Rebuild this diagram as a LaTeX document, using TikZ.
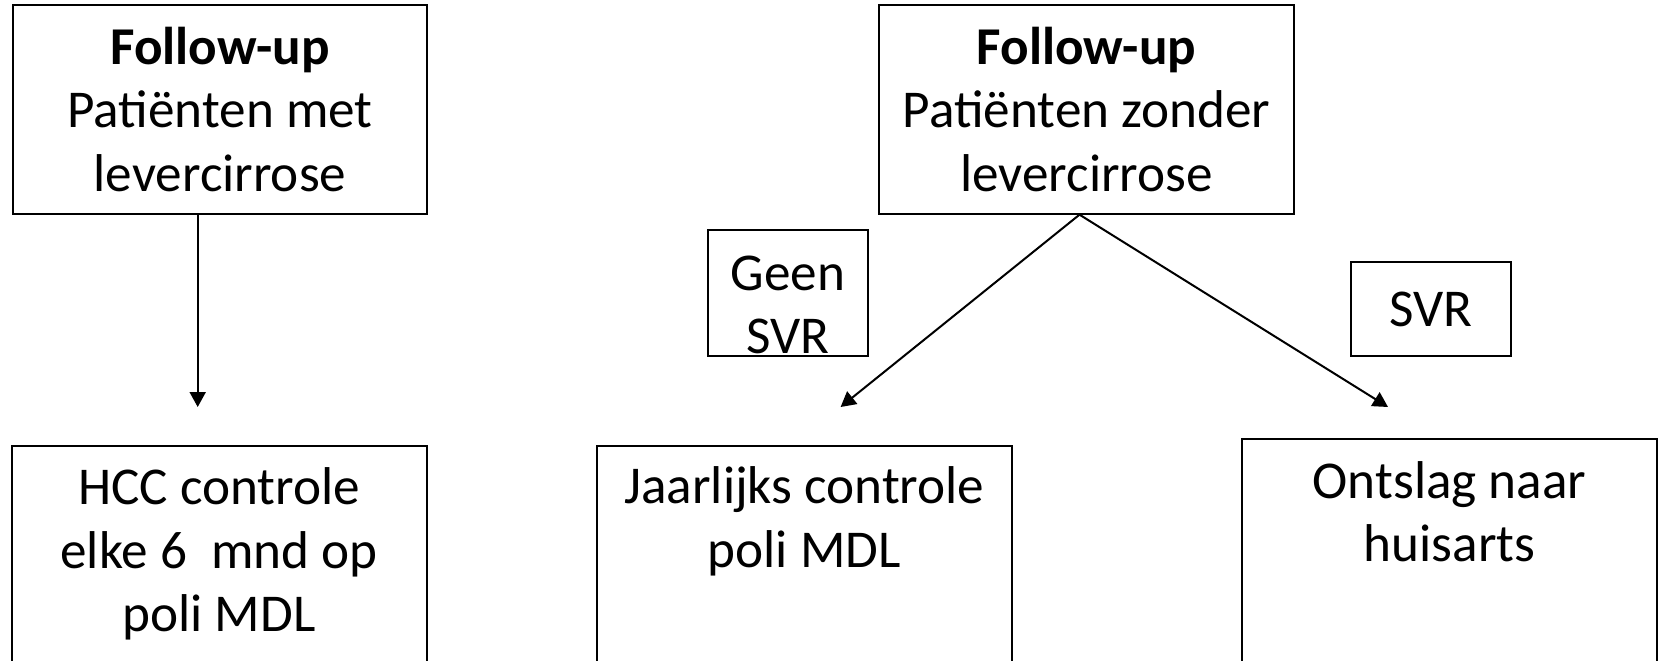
\documentclass[tikz,border=0pt]{standalone}
\usepackage{fontspec}
\setmainfont{Carlito}
\usetikzlibrary{arrows.meta}
\begin{document}
\begin{tikzpicture}[x=0.5pt,y=-0.5pt,
  box/.style={draw,line width=1pt,inner sep=0pt,align=center,
    font=\fontsize{26.6}{31.7}\selectfont},
  txt/.style={inner sep=0pt,align=center,font=\fontsize{26.6}{31.7}\selectfont},
  arr/.style={line width=1pt,-{Triangle[width=8pt,length=7.5pt]}}]
\useasboundingbox (0,0) rectangle (1658,660);
\begin{scope}
\clip (0,0) rectangle (1658,660);
\node[box,minimum width=207.15pt,minimum height=104.15pt] (A) at (220,109.5)
  {\textbf{Follow-up}\\Patiënten met\\levercirrose};
\node[box,minimum width=207.5pt,minimum height=104.15pt] (B) at (1086.5,109.5)
  {\textbf{Follow-up}\\Patiënten zonder\\levercirrose};
\node[box,minimum width=207.5pt,minimum height=108pt] (C) at (219,554)
  {HCC controle\\elke 6~~mnd op\\poli MDL};
\node[box,minimum width=207.7pt,minimum height=108pt] (D) at (804.3,554) {};
\node[txt] (Dt) at ([yshift=-38.2pt]D.north) {Jaarlijks controle\\poli MDL};
\node[box,minimum width=207.5pt,minimum height=111.5pt] (E) at (1449.5,550.5) {};
\node[txt] (Et) at ([yshift=-37pt]E.north) {Ontslag naar\\huisarts};
\node[box,minimum width=80pt,minimum height=63pt] (G) at (788,293) {};
\node[txt] (Gt) at ([yshift=-38pt]G.north) {Geen\\SVR};
\node[box,minimum width=80pt,minimum height=47pt] (S) at (1431,309) {SVR};
\coordinate (t1) at (197.7,407);
\coordinate (t2) at (840.6,407);
\coordinate (t3) at (1388,407);
\coordinate (b0) at ([xshift=-3.5pt]B.south);
\draw[arr] (t1 |- A.south) -- (t1);
\draw[arr] (b0) -- (t2);
\draw[arr] (b0) -- (t3);
\end{scope}
\end{tikzpicture}
\end{document}
